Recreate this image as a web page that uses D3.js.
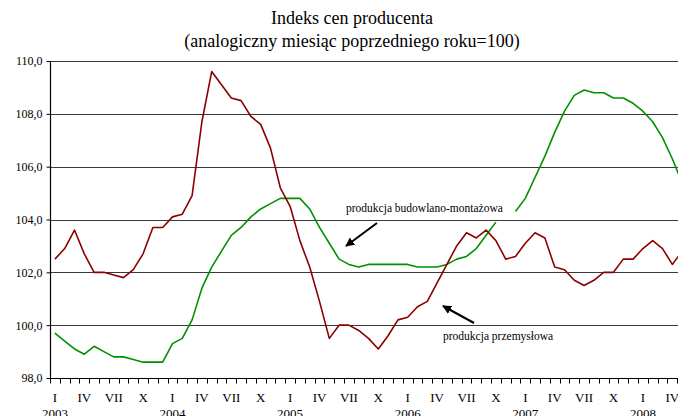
<!DOCTYPE html>
<html><head><meta charset="utf-8">
<script src="https://cdn.jsdelivr.net/npm/d3@7/dist/d3.min.js"></script>
<style>
html,body{margin:0;padding:0;background:#fff;}
svg{display:block;}
text{font-family:"Liberation Serif","Times New Roman",serif;fill:#000;}
</style></head>
<body>
<svg id="chart" width="678" height="416"></svg>
<script>
const titleLines = ["Indeks cen producenta", "(analogiczny miesiąc poprzedniego roku=100)"];
const years = [2003, 2004, 2005, 2006, 2007, 2008];
const monthLabels = ["I","II","III","IV","V","VI","VII","VIII","IX","X","XI","XII"];
const shownMonths = ["I","IV","VII","X"];
const yTicks = [98, 100, 102, 104, 106, 108, 110];
// produkcja przemysłowa (Jan 2003 – May 2008)
const industry = [
  102.5, 102.9, 103.6, 102.7, 102.0, 102.0, 101.9, 101.8, 102.1, 102.7, 103.7, 103.7,
  104.1, 104.2, 104.9, 107.7, 109.6, 109.1, 108.6, 108.5, 107.9, 107.6, 106.7, 105.2,
  104.5, 103.2, 102.2, 100.9, 99.5, 100.0, 100.0, 99.8, 99.5, 99.1, 99.6, 100.2,
  100.3, 100.7, 100.9, 101.6, 102.3, 103.0, 103.5, 103.3, 103.6, 103.2, 102.5, 102.6,
  103.1, 103.5, 103.3, 102.2, 102.1, 101.7, 101.5, 101.7, 102.0, 102.0, 102.5, 102.5,
  102.9, 103.2, 102.9, 102.3, 102.8
];
// produkcja budowlano-montażowa
const construction = [
  99.7, 99.4, 99.1, 98.9, 99.2, 99.0, 98.8, 98.8, 98.7, 98.6, 98.6, 98.6,
  99.3, 99.5, 100.2, 101.4, 102.2, 102.8, 103.4, 103.7, 104.1, 104.4, 104.6, 104.8,
  104.8, 104.8, 104.4, 103.7, 103.1, 102.5, 102.3, 102.2, 102.3, 102.3, 102.3, 102.3,
  102.3, 102.2, 102.2, 102.2, 102.3, 102.5, 102.6, 102.9, 103.4, 103.9, null, 104.3,
  104.8, 105.6, 106.4, 107.3, 108.1, 108.7, 108.9, 108.8, 108.8, 108.6, 108.6, 108.4,
  108.1, 107.7, 107.1, 106.3, 105.4
];
const annotations = ["produkcja budowlano-montażowa", "produkcja przemysłowa"];

const svg = d3.select("#chart");
const plot = {left: 50, top: 61, bottom: 378, step: 9.8};
const n = industry.length;
const idx = d3.range(n);
const x = d3.scaleBand().domain(idx).range([plot.left, plot.left + n * plot.step]).paddingInner(0).paddingOuter(0);
const cx = i => x(i) + x.bandwidth() / 2;
const y = d3.scaleLinear().domain([98, 110]).range([plot.bottom, plot.top]);
const fmt = v => d3.format(".1f")(v).replace(".", ",");

// title
svg.append("g").selectAll("text").data(titleLines).join("text")
  .attr("x", 352).attr("y", (d, i) => 24 + i * 23)
  .attr("text-anchor", "middle").style("font-size", "18px").text(d => d);

// gridlines
svg.append("g").selectAll("line").data(yTicks.filter(v => v > 98)).join("line")
  .attr("x1", plot.left).attr("x2", 678)
  .attr("y1", d => Math.round(y(d)) + 0.5).attr("y2", d => Math.round(y(d)) + 0.5)
  .attr("stroke", "#3a3a3a").attr("stroke-width", 1);

// y axis
const yAxis = d3.axisLeft(y).tickValues(yTicks).tickFormat(fmt).tickSize(4).tickPadding(4);
const gy = svg.append("g").attr("transform", `translate(${plot.left + 0.5},0)`).call(yAxis);
gy.select(".domain").attr("stroke", "#000").attr("stroke-width", 1.2).attr("d", `M0,${plot.top}V${plot.bottom}`);
gy.selectAll(".tick line").attr("stroke", "#000");
gy.selectAll(".tick text").style("font-size", "12px").style("font-family", "Liberation Serif");

// x axis ticks at category boundaries
const gx = svg.append("g").attr("transform", `translate(0,${Math.round(plot.bottom) + 0.5})`);
gx.append("line").attr("x1", plot.left).attr("x2", 678).attr("stroke", "#000").attr("stroke-width", 1.2);
gx.selectAll("line.tk").data(d3.range(n + 1)).join("line").attr("class", "tk")
  .attr("x1", i => Math.round(plot.left + i * x.step()) + 0.5)
  .attr("x2", i => Math.round(plot.left + i * x.step()) + 0.5)
  .attr("y1", 0).attr("y2", 5).attr("stroke", "#000");
gx.selectAll("text.m").data(idx.filter(i => shownMonths.includes(monthLabels[i % 12]))).join("text").attr("class", "m")
  .attr("x", cx).attr("y", 23).attr("text-anchor", "middle").style("font-size", "13px")
  .text(i => monthLabels[i % 12]);
gx.selectAll("text.yr").data(years).join("text").attr("class", "yr")
  .attr("x", (d, k) => cx(k * 12)).attr("y", 39).attr("text-anchor", "middle").style("font-size", "13px")
  .text(d => d);

// lines
const line = d3.line().defined(d => d != null).x((d, i) => cx(i)).y(d => y(d));
svg.append("path").datum(construction).attr("d", line).attr("fill", "none")
  .attr("stroke", "#009000").attr("stroke-width", 1.6).attr("stroke-linejoin", "round");
svg.append("path").datum(industry).attr("d", line).attr("fill", "none")
  .attr("stroke", "#8b0000").attr("stroke-width", 1.6).attr("stroke-linejoin", "round");

// annotations
svg.append("text").attr("x", 346).attr("y", 212).style("font-size", "11.5px").text(annotations[0]);
svg.append("text").attr("x", 443).attr("y", 340).style("font-size", "11.5px").text(annotations[1]);
const defs = svg.append("defs");
defs.append("marker").attr("id", "ah").attr("viewBox", "0 0 10 10").attr("refX", 9).attr("refY", 5)
  .attr("markerWidth", 4.5).attr("markerHeight", 4.5).attr("orient", "auto")
  .append("path").attr("d", "M0,0L10,5L0,10z").attr("fill", "#000");
svg.append("line").attr("x1", 377).attr("y1", 223).attr("x2", 346).attr("y2", 246)
  .attr("stroke", "#000").attr("stroke-width", 2).attr("marker-end", "url(#ah)");
svg.append("line").attr("x1", 474).attr("y1", 323).attr("x2", 443).attr("y2", 306)
  .attr("stroke", "#000").attr("stroke-width", 2).attr("marker-end", "url(#ah)");
</script>
</body></html>
